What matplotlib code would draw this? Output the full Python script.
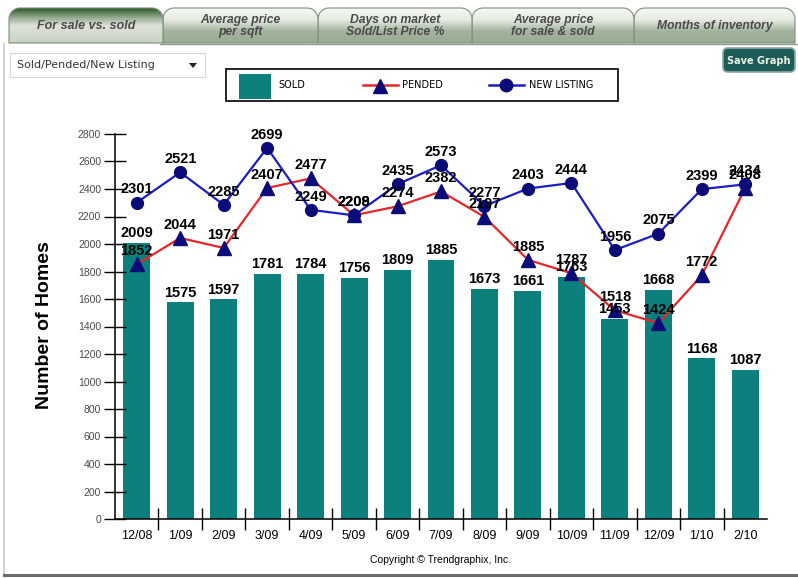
import numpy as np
import matplotlib.pyplot as plt
from matplotlib.patches import Rectangle, FancyBboxPatch, Polygon
from matplotlib.colors import LinearSegmentedColormap

plt.rcParams['font.family'] = ['Liberation Sans', 'DejaVu Sans']

# monthly counts
months = ['12/08', '1/09', '2/09', '3/09', '4/09', '5/09', '6/09', '7/09',
          '8/09', '9/09', '10/09', '11/09', '12/09', '1/10', '2/10']
sold = [2009, 1575, 1597, 1781, 1784, 1756, 1809, 1885,
        1673, 1661, 1763, 1453, 1668, 1168, 1087]
pended = [1852, 2044, 1971, 2407, 2477, 2209, 2274, 2382,
          2197, 1885, 1787, 1518, 1424, 1772, 2408]
new_listing = [2301, 2521, 2285, 2699, 2249, 2208, 2435, 2573,
               2277, 2403, 2444, 1956, 2075, 2399, 2434]
yticks = list(range(0, 2801, 200))

tab_names = ['For sale vs. sold', 'Average price\nper sqft', 'Days on market\nSold/List Price %',
             'Average price\nfor sale & sold', 'Months of inventory']

BAR = '#0b807c'
RED = '#e5262a'
BLUE = '#1d1dc4'
NAVY = '#0c0c78'

fig = plt.figure(figsize=(7.98, 5.78), dpi=100)

# page furniture drawn in pixel coordinates
bg = fig.add_axes([0, 0, 1, 1], zorder=-1)
bg.set_xlim(0, 798)
bg.set_ylim(578, 0)
bg.axis('off')


def tab_points(x0, x1, top=8, bottom=43, r=11):
    t = np.linspace(0, np.pi / 2, 14)
    left = [(x0 + r - r * np.cos(a), top + r - r * np.sin(a)) for a in t]
    right = [(x1 - r + r * np.sin(a), top + r - r * np.cos(a)) for a in t]
    return [(x0, bottom)] + left + right + [(x1, bottom)]


tab_edges = [9, 163, 318, 472, 634, 795]
inactive = LinearSegmentedColormap.from_list('inactive', ['#f7f8f4', '#e6ebe2', '#a3b39d', '#9aab94'])
active = LinearSegmentedColormap.from_list('active', ['#2b5a28', '#8fa48a', '#dde3d8', '#d3dacd', '#c9d1c3'])
grad = np.linspace(0, 1, 64).reshape(-1, 1)

# draw right-to-left so each tab overlaps its right neighbour
for i in reversed(range(5)):
    x0, x1 = tab_edges[i], tab_edges[i + 1]
    poly = Polygon(tab_points(x0, x1), closed=True, facecolor='none',
                   edgecolor='#7f8f7c', lw=0.8, zorder=2 + (5 - i))
    bg.add_patch(poly)
    im = bg.imshow(grad, cmap=active if i == 0 else inactive, aspect='auto',
                   extent=(x0, x1, 43, 8), zorder=1.9 + (5 - i))
    im.set_clip_path(poly)
    bg.text((x0 + x1) / 2, 26, tab_names[i], ha='center', va='center',
            fontsize=9 if i == 0 else 8.7, style='italic', fontweight='bold',
            color='#4a4a4a', linespacing=0.95, zorder=10)
bg.plot([160, 798], [43.5, 43.5], color='#8d9d89', lw=1, zorder=9)

# outer frame
bg.plot([4, 4], [44, 575], color='#c8c8c8', lw=1.2)
bg.plot([4, 798], [575, 575], color='#6b6b6b', lw=2.2)

# dropdown
bg.add_patch(Rectangle((10, 53), 195, 24, facecolor='white', edgecolor='#d8d8d8', lw=0.8))
bg.text(17, 65.5, 'Sold/Pended/New Listing', family='DejaVu Sans', fontsize=8,
        color='#333333', va='center', ha='left')
bg.add_patch(Polygon([(189, 63), (197, 63), (193, 68)], closed=True, facecolor='#222222'))

# save button
bg.add_patch(FancyBboxPatch((723, 48), 72, 24, boxstyle='round,pad=0,rounding_size=5',
                            facecolor='#1e5c58', edgecolor='#8fa6a4', lw=1.2))
bg.text(759, 60.5, 'Save Graph', family='DejaVu Sans', fontsize=7, fontweight='bold',
        color='#eaf3e6', ha='center', va='center')

# legend box
bg.add_patch(Rectangle((226, 69), 392, 32, facecolor='white', edgecolor='black', lw=1.2))
bg.add_patch(Rectangle((239, 74), 32, 25, facecolor=BAR, edgecolor='none'))
bg.text(278, 85, 'SOLD', family='DejaVu Sans', fontsize=7, va='center', ha='left')
bg.plot([363, 398], [85, 85], color=RED, lw=1.8)
bg.plot([380], [86], marker='^', ms=10, color=NAVY)
bg.text(402, 85, 'PENDED', family='DejaVu Sans', fontsize=7, va='center', ha='left')
bg.plot([489, 524], [85, 85], color=BLUE, lw=1.8)
bg.plot([506], [85], marker='o', ms=9, color=NAVY)
bg.text(529, 85, 'NEW LISTING', family='DejaVu Sans', fontsize=7, va='center', ha='left')

# chart
ax = fig.add_axes([115 / 798, 59 / 578, 652 / 798, 385 / 578])
ax.set_facecolor('none')
x = np.arange(len(months))
ax.bar(x, sold, width=0.62, color=BAR, zorder=1)
ax.plot(x, pended, color=RED, lw=1.6, marker='^', ms=10, mfc=NAVY, mec=NAVY, zorder=3)
ax.plot(x, new_listing, color=BLUE, lw=1.6, marker='o', ms=8.5, mfc=NAVY, mec=NAVY, zorder=3)

for i in x:
    ax.annotate(str(sold[i]), (i, sold[i]), xytext=(0, 2), textcoords='offset points',
                ha='center', va='bottom', fontsize=10.5, fontweight='bold', zorder=5)
    ax.annotate(str(pended[i]), (i, pended[i]), xytext=(0, 4.5), textcoords='offset points',
                ha='center', va='bottom', fontsize=10.5, fontweight='bold', zorder=5)
    ax.annotate(str(new_listing[i]), (i, new_listing[i]), xytext=(0, 4.5), textcoords='offset points',
                ha='center', va='bottom', fontsize=10.5, fontweight='bold', zorder=5)

ax.set_xlim(-0.5, 14.5)
ax.set_ylim(0, 2800)
ax.spines['top'].set_visible(False)
ax.spines['right'].set_visible(False)
ax.spines['left'].set_linewidth(1.1)
ax.spines['bottom'].set_linewidth(1.1)

ax.set_yticks(yticks)
ax.tick_params(axis='y', direction='inout', length=16, width=1, labelsize=7.5,
               labelcolor='#4a4a4a', pad=2)
ax.set_xticks(x)
ax.set_xticklabels(months)
ax.set_xticks(x[:-1] + 0.5, minor=True)
ax.tick_params(axis='x', which='major', length=0, labelsize=9, pad=8)
ax.tick_params(axis='x', which='minor', direction='inout', length=16, width=1)

fig.text(45 / 798, 1 - 325 / 578, 'Number of Homes', rotation=90, fontsize=14,
         fontweight='bold', ha='center', va='center')
fig.text(440 / 798, 1 - 560 / 578, 'Copyright \u00a9 Trendgraphix, Inc.', fontsize=7.5,
         ha='center', va='center')

fig.savefig('out.png', dpi=100)
